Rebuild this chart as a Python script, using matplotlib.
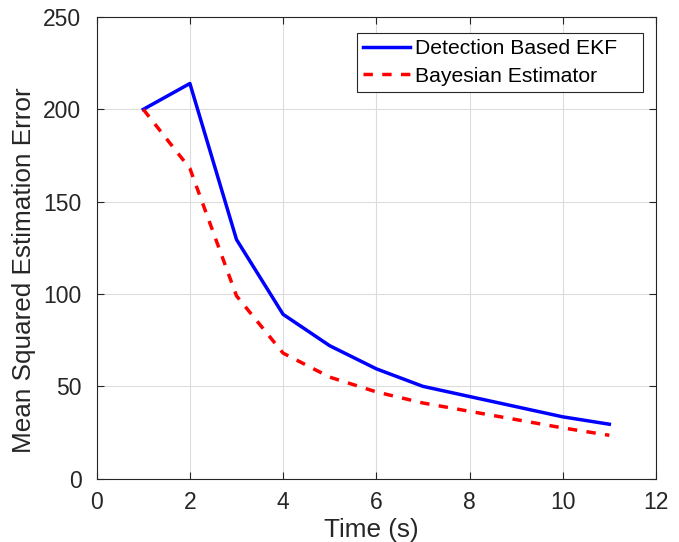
import numpy as np
import matplotlib
matplotlib.use("Agg")
import matplotlib.pyplot as plt

plt.rcParams['font.family'] = ['Liberation Sans', 'DejaVu Sans']

time_s = [1, 2, 3, 4, 5, 6, 7, 8, 9, 10, 11]
ekf_mse = [200, 214, 129.5, 89, 72, 59.5, 50, 44.5, 39, 33.5, 29.5]
bayes_mse = [200, 168, 99, 68, 55, 47, 41, 36.5, 32, 27.5, 23.5]

fig = plt.figure(figsize=(6.79, 5.42), dpi=100)
ax = fig.add_axes([0.1424, 0.1168, 0.8236, 0.8518])

ax.plot(time_s, ekf_mse, color='#0000ff', lw=2.5, label='Detection Based EKF')
ax.plot(time_s, bayes_mse, color='#ff0000', lw=2.5, ls=(0, (2.7, 2.7)),
        label='Bayesian Estimator')

ax.set_xlim(0, 12)
ax.set_ylim(0, 250)
ax.set_xticks(np.arange(0, 13, 2))
ax.set_yticks(np.arange(0, 251, 50))
ax.grid(True, color='#dcdcdc', lw=0.8)
ax.set_axisbelow(True)
ax.tick_params(direction='in', top=True, right=True, labelsize=16.5,
               length=5, color='#262626', labelcolor='#262626')
ax.tick_params(axis='x', pad=9)
ax.tick_params(axis='y', pad=11)
for s in ax.spines.values():
    s.set_color('#262626')
    s.set_linewidth(0.8)

ax.set_xlabel('Time (s)', fontsize=18.8, color='#262626')
ax.set_ylabel('Mean Squared Estimation Error', fontsize=18.8, color='#262626')
ax.xaxis.set_label_coords(0.491, -0.085)
ax.yaxis.set_label_coords(-0.1085, 0.452)

# expanded legend box leaves blank room right of the labels
leg = ax.legend(loc='upper right', fontsize=15.2, fancybox=False,
                framealpha=1, edgecolor='#262626', handlelength=2.2,
                handletextpad=0.25, borderpad=0.3, labelspacing=0.4,
                borderaxespad=0, mode='expand',
                bbox_to_anchor=(0.4654, 0.5, 0.5114, 0.4653))
leg.get_frame().set_linewidth(0.8)

fig.savefig('out.png', dpi=100)
